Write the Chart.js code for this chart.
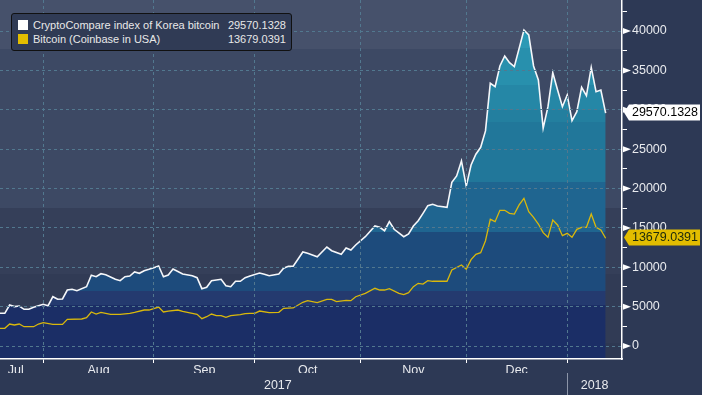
<!DOCTYPE html>
<html><head><meta charset="utf-8">
<title>Korea bitcoin vs Coinbase</title>
<script src="https://cdn.jsdelivr.net/npm/chart.js@4"></script>
<style>
    html, body { margin: 0; padding: 0; background: #2d3955; }
    #wrap { position: relative; width: 702px; height: 395px; }
    canvas { display: block; }
    .legend { position: absolute; left: 11px; top: 13px; width: 279px; height: 36px; background: #303b55; border: 1px solid #111; border-radius: 3px; font: 11px 'Liberation Sans', Arial, sans-serif; color: #e8e8e8; }
    .row { position: absolute; left: 6px; right: 5px; height: 14px; line-height: 14px; }
    .sw { position: absolute; left: 0; top: 2px; width: 10px; height: 10px; }
    .name { position: absolute; left: 15px; }
    .val { position: absolute; right: 0; }
</style></head>
<body>
<div id="wrap">
    <canvas id="grafico" width="702" height="395"></canvas>
    <div class="legend">
        <div class="row" style="top:4px"><span class="sw" style="background:#ffffff"></span><span class="name">CryptoCompare index of Korea bitcoin</span><span class="val" id="v1"></span></div>
        <div class="row" style="top:18px"><span class="sw" style="background:#e2bd00"></span><span class="name">Bitcoin (Coinbase in USA)</span><span class="val" id="v2"></span></div>
    </div>
</div>
<script>
// --- DADOS ---
// eixo x = dias úteis contados a partir de 19/07/2017 (o gráfico pula fins de semana)
const monthNames = ['Jul', 'Aug', 'Sep', 'Oct', 'Nov', 'Dec'];
const monthStarts = [9, 32, 53, 75, 97, 118];   // 1º dia útil de Aug, Sep, Oct, Nov, Dec, Jan
const monthPos = [3.3, 20.5, 42.5, 64, 86, 107.5];
const yearNames = ['2017', '2018'];
const yearPos = [57.8, 123.7];
const yearStart = 118;
const yMajor = [0, 5000, 10000, 15000, 20000, 25000, 30000, 35000, 40000];
const yMinor = [2500, 7500, 12500, 17500, 22500, 27500, 32500, 37500, 42500];

const korDays = [0,1,2,3,4,5,6,7,9,10,11,12,13,14,15,16,18,19,20,21,22,24,25,26,27,28,29,30,31,32,33,34,35,36,38,40,41,42,43,44,46,47,48,49,50,51,52,54,55,56,58,59,60,61,63,64,66,68,69,71,72,73,74,76,78,79,80,81,82,84,85,86,87,88,89,90,91,93,94,95,96,97,98,99,100,101,102,103,104,105,106,107,109,110,111,112,113,114,115,116,117,118,119,120,121,122,123,124,125,126];
const korVals = [4150,4150,5200,5000,5080,4660,4660,4910,5290,5120,6260,5930,5970,7110,7200,7020,7530,8980,8800,9180,9050,8470,8290,8800,8890,9400,9230,9560,9740,9940,10160,8800,9020,9780,9140,8930,8670,7280,7450,8290,8470,7660,7530,8220,8220,8680,8900,9270,9100,8930,9140,9870,10120,10120,11940,11770,11340,12570,12100,11650,12450,12190,12830,13880,15240,15070,14640,15790,14820,13880,14220,15240,15910,16850,17820,18000,17780,17610,20790,21590,23500,20300,22990,24350,25230,27310,33360,32930,35560,36830,35980,35470,40130,39500,35560,33780,27650,30390,34710,32510,30390,31880,28610,29760,32850,31790,35390,32300,32510,29570.1328];

const cbDays = [0,1,2,3,4,5,7,8,9,11,13,14,17,18,19,20,21,23,25,27,28,30,31,33,34,35,37,38,40,41,42,43,44,45,46,47,48,50,51,52,53,54,56,58,59,61,63,64,66,68,69,70,72,73,74,76,78,79,80,81,83,84,85,86,87,88,89,90,93,94,96,97,98,99,100,101,102,103,104,105,106,107,108,109,110,111,112,113,114,115,116,117,118,119,120,121,122,123,124,125,126];
const cbVals = [2250,2250,2790,2670,2790,2450,2450,2790,2960,2750,2750,3390,3430,3600,4320,4060,4280,4020,4020,4150,4280,4570,4570,4950,4320,4440,4570,4400,4150,4020,3470,3720,4060,3850,3850,3640,3850,3980,4120,4150,4150,4440,4230,4280,4790,4830,5550,5760,5500,5930,5930,5630,5800,5760,6260,6690,7330,7110,7110,7280,6690,6520,6770,7530,7960,7870,8290,8220,8220,9650,10290,9740,10970,11650,11850,13370,16090,15790,17230,17230,16850,16760,17910,18760,17060,16340,15490,14390,13800,16000,15370,14010,14310,13800,14820,15070,15070,16760,15070,14730,13679.0391];

// --- ESTILO ---
const FONT = "'Liberation Sans', Arial, sans-serif";
const gridCol = '#52788f';
const bgBands = [[0, '#46516b'], [49, '#3d4964'], [208, '#353f59'], [274, '#313b55'], [343, '#2e3852']];
const fillBands = [[0, '#2b99b5'], [48, '#2890ad'], [85, '#2587a6'], [110, '#237f9f'], [122, '#21779a'], [182, '#1f6590'], [232, '#1d4b7c'], [291, '#243a6f'], [305, '#1b2e66']];

document.getElementById('v1').innerText = korVals[korVals.length - 1].toFixed(4);
document.getElementById('v2').innerText = cbVals[cbVals.length - 1].toFixed(4);

function bandGradient(chart, bands) {
    const a = chart.chartArea;
    const g = chart.ctx.createLinearGradient(0, a.top, 0, a.bottom);
    const h = a.bottom - a.top;
    bands.forEach((b, i) => {
        const from = Math.min(b[0] / h, 1);
        const to = i + 1 < bands.length ? Math.min(bands[i + 1][0] / h, 1) : 1;
        g.addColorStop(from, b[1]);
        g.addColorStop(to, b[1]);
    });
    return g;
}

// fundo em faixas
const fundo = {
    id: 'fundo',
    beforeDraw(chart) {
        const c = chart.ctx, a = chart.chartArea;
        c.save();
        c.fillStyle = '#2d3955';
        c.fillRect(0, 0, chart.width, chart.height);
        c.fillStyle = bandGradient(chart, bgBands);
        c.fillRect(a.left, a.top, a.right - a.left, a.bottom - a.top);
        c.restore();
    }
};

// setas do eixo y e etiquetas do último valor
const marcadores = {
    id: 'marcadores',
    afterDraw(chart) {
        const c = chart.ctx, y = chart.scales.y;
        const ax = chart.chartArea.right;
        c.save();
        c.fillStyle = '#ffffff';
        yMajor.forEach(v => {
            const py = y.getPixelForValue(v);
            c.beginPath();
            c.moveTo(ax + 1, py - 3);
            c.lineTo(ax + 9, py);
            c.lineTo(ax + 1, py + 3);
            c.closePath();
            c.fill();
        });
        const tags = [
            { v: korVals[korVals.length - 1], bg: '#ffffff', fg: '#000000' },
            { v: cbVals[cbVals.length - 1], bg: '#e2bd00', fg: '#1c2a0c' }
        ];
        tags.forEach(t => {
            const py = Math.round(y.getPixelForValue(t.v)) - 0.5;
            c.fillStyle = t.bg;
            c.beginPath();
            c.moveTo(ax + 2, py);
            c.lineTo(ax + 7, py - 8);
            c.lineTo(700, py - 8);
            c.lineTo(700, py + 8);
            c.lineTo(ax + 7, py + 8);
            c.closePath();
            c.fill();
            c.fillStyle = t.fg;
            c.font = '12.5px ' + FONT;
            c.textBaseline = 'middle';
            c.textAlign = 'right';
            c.fillText(t.v.toFixed(4), 698, py + 0.5);
        });
        c.restore();
    }
};

Chart.defaults.font.family = FONT;
Chart.defaults.font.size = 12.5;
Chart.defaults.color = '#e8eaee';

new Chart(document.getElementById('grafico'), {
    type: 'line',
    data: {
        datasets: [
            {
                label: 'Bitcoin (Coinbase in USA)',
                data: cbDays.map((d, i) => ({ x: d, y: cbVals[i] })),
                borderColor: '#d9b80c', borderWidth: 1.3, pointRadius: 0, fill: false, order: 0
            },
            {
                label: 'CryptoCompare index of Korea bitcoin',
                data: korDays.map((d, i) => ({ x: d, y: korVals[i] })),
                borderColor: '#f5f7fa', borderWidth: 1.6, pointRadius: 0, fill: 'start', order: 1,
                backgroundColor: ctx => ctx.chart.chartArea ? bandGradient(ctx.chart, fillBands) : '#1f6590'
            }
        ]
    },
    options: {
        responsive: false,
        animation: false,
        devicePixelRatio: 1,
        layout: { padding: 0, autoPadding: false },
        plugins: { legend: { display: false }, tooltip: { enabled: false } },
        scales: {
            x: {
                type: 'linear', position: 'bottom', min: 0, max: 129.4, weight: 0,
                afterBuildTicks: s => {
                    s.ticks = monthStarts.concat(monthPos).sort((a, b) => a - b).map(v => ({ value: v }));
                },
                afterFit: s => { s.height = 14; s.paddingLeft = 0; s.paddingRight = 0; },
                ticks: {
                    autoSkip: false, maxRotation: 0, padding: 0,
                    callback: v => { const i = monthPos.indexOf(v); return i >= 0 ? monthNames[i] : ''; }
                },
                grid: {
                    z: 1, tickLength: 4, lineWidth: 1, tickWidth: 1,
                    color: c => (c.tick && monthStarts.includes(c.tick.value)) ? gridCol : 'transparent',
                    tickColor: c => (c.tick && monthStarts.includes(c.tick.value)) ? '#ffffff' : 'transparent'
                },
                border: { color: '#ffffff', width: 1.5, dash: [3, 3], z: 1 }
            },
            x2: {
                type: 'linear', position: 'bottom', min: 0, max: 129.4, weight: 1,
                afterBuildTicks: s => {
                    s.ticks = [yearPos[0], yearStart, yearPos[1]].map(v => ({ value: v }));
                },
                afterFit: s => { s.height = 22; s.paddingLeft = 0; s.paddingRight = 0; },
                ticks: {
                    autoSkip: false, maxRotation: 0, padding: -17,
                    callback: v => { const i = yearPos.indexOf(v); return i >= 0 ? yearNames[i] : ''; }
                },
                grid: {
                    drawOnChartArea: false, tickLength: 22, tickWidth: 1,
                    tickColor: c => (c.tick && c.tick.value === yearStart) ? '#8c95a8' : 'transparent'
                },
                border: { display: false }
            },
            y: {
                type: 'linear', position: 'right', min: -1650, max: 43937,
                afterBuildTicks: s => {
                    s.ticks = yMajor.concat(yMinor).sort((a, b) => a - b).map(v => ({ value: v }));
                },
                afterFit: s => { s.width = 80; s.paddingTop = 0; s.paddingBottom = 0; },
                ticks: {
                    padding: 5, crossAlign: 'near',
                    callback: v => yMajor.includes(v) ? String(v) : ''
                },
                grid: {
                    z: 1, tickLength: 5, tickWidth: 1,
                    color: c => (c.tick && yMajor.includes(c.tick.value)) ? gridCol : 'transparent',
                    tickColor: c => (c.tick && yMinor.includes(c.tick.value)) ? '#ffffff' : 'transparent'
                },
                border: { color: '#ffffff', width: 1.5, dash: [3, 3], z: 1 }
            }
        }
    },
    plugins: [fundo, marcadores]
});
</script>
</body></html>
